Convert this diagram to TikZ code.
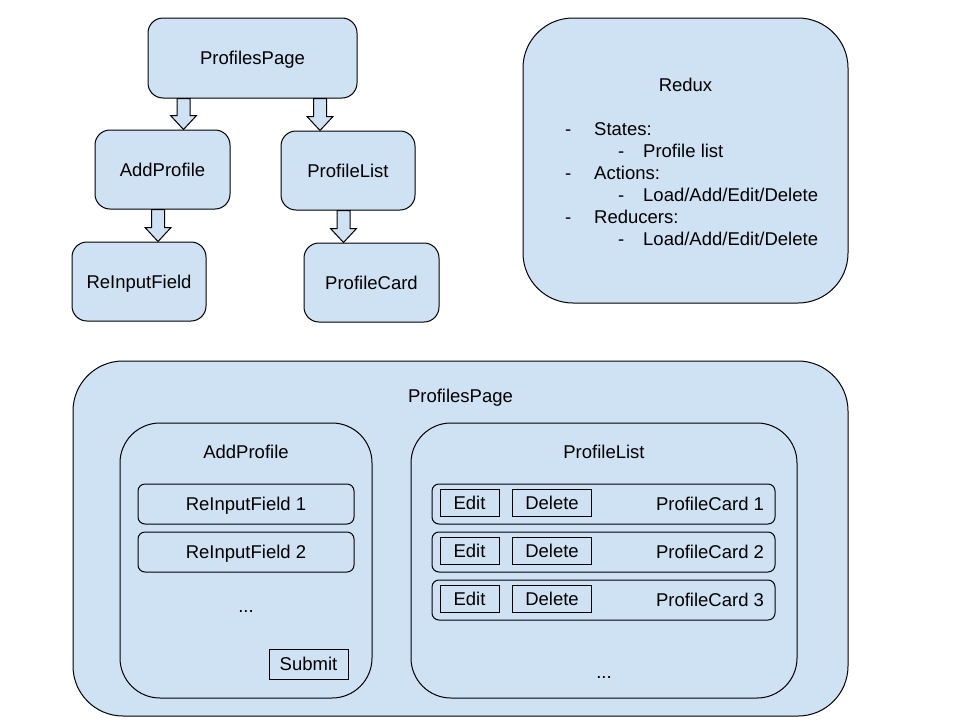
\documentclass[tikz,border=0pt]{standalone}
\usepackage{fontspec}
\setmainfont{Liberation Sans}
\usetikzlibrary{calc}
\definecolor{boxblue}{HTML}{CFE2F3}
\newcommand\blockarrow[3]{%
  \path let \p1=(#2.south), \p2=(#3.north) in
    [draw=black, fill=boxblue, line width=1pt, line join=miter]
    ({#1-6.5},\y1) -- ({#1+6.5},\y1) -- ({#1+6.5},{\y2+14pt}) -- ({#1+13},{\y2+14pt})
    -- (#1,\y2) -- ({#1-13},{\y2+14pt}) -- ({#1-6.5},{\y2+14pt}) -- cycle;}
\begin{document}
\begin{tikzpicture}[x=1pt,y=-1pt,
  txt/.style={font=\fontsize{18.5}{21}\selectfont, inner sep=0pt, text height=13.2pt, text depth=0pt},
  rbox/.style={draw=black, fill=boxblue, line width=1pt, rounded corners=#1, inner sep=0pt,
    font=\fontsize{18.5}{21}\selectfont, text height=13.2pt, text depth=0pt},
  rbox/.default=15pt,
  sbox/.style={draw=black, fill=boxblue, line width=1pt, inner sep=0pt,
    font=\fontsize{18.5}{21}\selectfont, text height=13.2pt, text depth=0pt},
  ltxt/.style={font=\fontsize{18.5}{21}\selectfont, inner sep=0pt, anchor=base west}]
\useasboundingbox[fill=white] (0,0) rectangle (960,720);

% ---- top tree ----
\node[rbox, minimum width=209pt, minimum height=80pt] (pp) at (252.5,58) {ProfilesPage};
\node[rbox, minimum width=135pt, minimum height=79pt] (ap) at (162.5,169.5) {AddProfile};
\node[rbox, minimum width=134pt, minimum height=79pt] (pl) at (348,170.5) {ProfileList};
\node[rbox, minimum width=134pt, minimum height=79pt] (rif) at (139,281.5) {ReInputField};
\node[rbox, minimum width=135pt, minimum height=79pt] (pc) at (371.5,282.5) {ProfileCard};
\blockarrow{183.5}{pp}{ap}
\blockarrow{320}{pp}{pl}
\blockarrow{158}{ap}{rif}
\blockarrow{343.5}{pl}{pc}

% ---- Redux ----
\node[rbox=50pt, minimum width=325pt, minimum height=285pt] (rx) at (685.5,160.5) {};
\node[txt] (rxt) at (685.5,85) {Redux};
\node[ltxt] (d1) at (565,135) {-};
\node[ltxt] (l1) at (594,135) {States:};
\node[ltxt] (d2) at (618,157) {-};
\node[ltxt] (l2) at (643,157) {Profile list};
\node[ltxt] (d3) at (565,179) {-};
\node[ltxt] (l3) at (594,179) {Actions:};
\node[ltxt] (d4) at (618,201) {-};
\node[ltxt] (l4) at (643,201) {Load/Add/Edit/Delete};
\node[ltxt] (d5) at (565,223) {-};
\node[ltxt] (l5) at (594,223) {Reducers:};
\node[ltxt] (d6) at (618,245) {-};
\node[ltxt] (l6) at (643,245) {Load/Add/Edit/Delete};

% ---- bottom layout ----
\node[rbox=50pt, minimum width=775pt, minimum height=355pt] (big) at (460.5,538.5) {};
\node[txt] (bigt) at (460.5,396) {ProfilesPage};
\node[rbox=40pt, minimum width=252pt, minimum height=275pt] (iap) at (246,560.5) {};
\node[txt] (iapt) at (246,452) {AddProfile};
\node[rbox=40pt, minimum width=386pt, minimum height=275pt] (ipl) at (604,560.5) {};
\node[txt] (iplt) at (604,452) {ProfileList};

\node[rbox=7pt, minimum width=216pt, minimum height=40pt] (rf1) at (246,504) {ReInputField 1};
\node[rbox=7pt, minimum width=216pt, minimum height=40pt] (rf2) at (246,552) {ReInputField 2};
\node[txt, text height=2pt] (dots1) at (246,611) {...};
\node[sbox, minimum width=79pt, minimum height=30pt] (sub) at (308.5,664) {Submit};

\foreach \i/\y in {1/504, 2/552, 3/600}{
  \node[rbox=7pt, minimum width=343pt, minimum height=40pt] (card\i) at (603.5,\y) {};
  \node[sbox, minimum width=59pt, minimum height=27pt] (edit\i) at (469.5,\y-1) {Edit};
  \node[sbox, minimum width=79pt, minimum height=27pt] (del\i) at (552,\y-1) {Delete};
  \node[txt] (cardt\i) at (710,\y) {ProfileCard \i};
}
\node[txt, text height=2pt] (dots2) at (604,677) {...};
\end{tikzpicture}
\end{document}
